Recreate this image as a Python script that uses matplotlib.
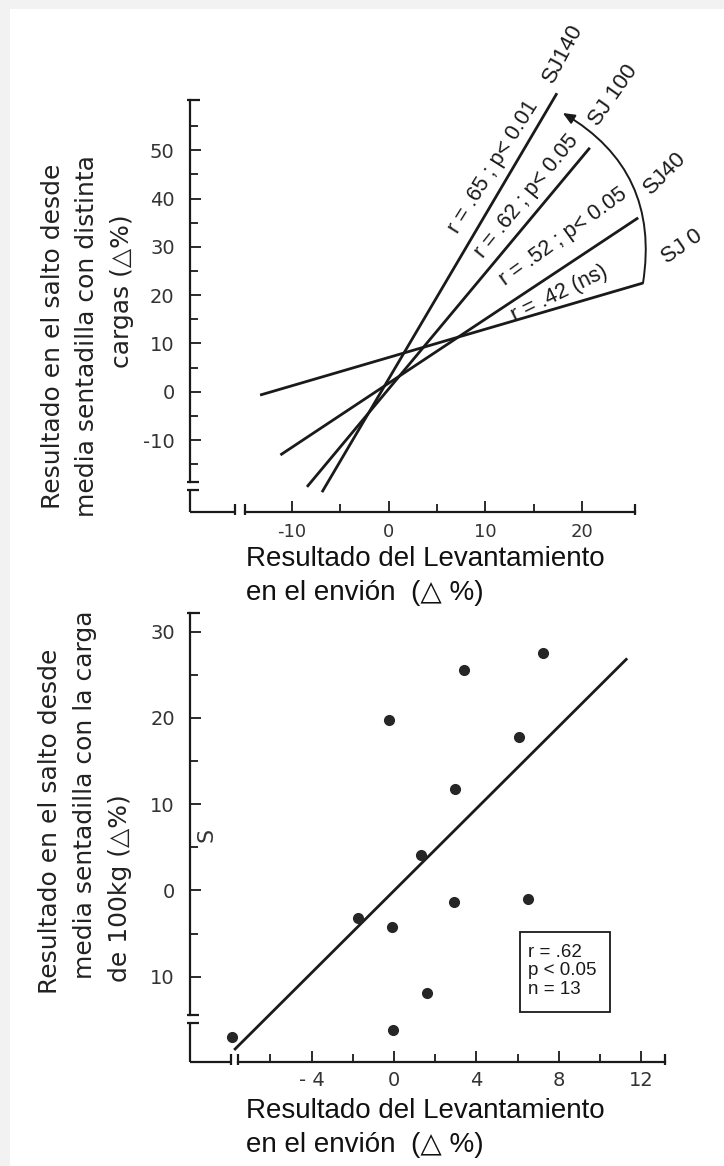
import numpy as np
import matplotlib.pyplot as plt
from matplotlib.patches import FancyArrowPatch, Rectangle

# --- Gráfico superior: rectas de regresión para cada carga (extremos de cada recta)
cargas = ["SJ 0", "SJ40", "SJ 100", "SJ140"]
rectas_x = [[-13.3, 26.3], [-11.2, 25.8], [-8.45, 20.8], [-6.9, 17.4]]
rectas_y = [[-0.7, 22.5], [-13.1, 36.0], [-19.7, 50.5], [-20.8, 61.8]]
estadisticos = ["r = .42 (ns)", "r = .52 ; p< 0.05", "r = .62 ; p< 0.05", "r = .65 ; p< 0.01"]

# --- Gráfico inferior: SJ con 100 kg frente al envión (n = 13)
envion = [-7.84, -1.76, -0.26, -0.09, -0.06, 1.31, 1.61, 2.98, 2.91, 3.40, 6.07, 6.51, 7.23]
salto = [-16.96, -3.24, 19.76, -4.2, -16.2, 4.1, -11.9, 11.8, -1.3, 25.5, 17.75, -1.03, 27.5]
ajuste_x = [-7.76, 11.32]
ajuste_y = [-18.5, 26.9]

y1_ticks = [-10, 0, 10, 20, 30, 40, 50]
x1_ticks = [-10, 0, 10, 20]
y2_ticks = [-10, 0, 10, 20, 30]
y2_labels = ["10", "0", "10", "20", "30"]
x2_ticks = [-4, 0, 4, 8, 12]

W, H = 724, 1166
TINTA = "#1a1a1a"
fig = plt.figure(figsize=(W / 100, H / 100), dpi=100)
fig.patch.set_facecolor("#f2f2f2")
fig.add_artist(Rectangle((10 / W, 0), 1 - 10 / W, 1 - 9 / H, transform=fig.transFigure,
                         facecolor="white", edgecolor="none", zorder=-5))

SANS = ["Liberation Sans", "DejaVu Sans"]
NARROW = ["Liberation Sans Narrow"] + SANS
DIN = ["DejaVu Sans"]


def fpos(x, y):
    return x / W, 1 - y / H


def colocar_ejes(x0, kx, xlim, y0, ky, ylim):
    # x0, y0: píxel del origen; kx, ky: píxeles por unidad
    izq, der = x0 + kx * xlim[0], x0 + kx * xlim[1]
    inf, sup = y0 - ky * ylim[0], y0 - ky * ylim[1]
    ax = fig.add_axes([izq / W, 1 - inf / H, (der - izq) / W, (inf - sup) / H])
    ax.set_xlim(xlim)
    ax.set_ylim(ylim)
    ax.patch.set_alpha(0)
    return ax


def ejes_cortados(ax, kx, ky, x_eje, y_eje, y_corte, y_tope, x_corte, x_fin):
    # ejes dibujados a mano con las marcas de corte
    kw = dict(color=TINTA, lw=1.6, clip_on=False, solid_capstyle="butt")
    for s in ["top", "right"]:
        ax.spines[s].set_visible(False)
    ax.spines["left"].set_position(("data", x_eje))
    ax.spines["left"].set_bounds(y_corte[0], y_tope)
    ax.spines["bottom"].set_position(("data", y_eje))
    ax.spines["bottom"].set_bounds(x_corte[1], x_fin)
    for s in ["left", "bottom"]:
        ax.spines[s].set_linewidth(1.6)
        ax.spines[s].set_color(TINTA)
    ax.plot([x_eje, x_eje], [y_eje, y_corte[1]], **kw)
    ax.plot([x_eje, x_corte[0]], [y_eje, y_eje], **kw)
    for yc in y_corte:
        ax.plot([x_eje - 3 / kx, x_eje + 9 / kx], [yc, yc], **kw)
    for xc in x_corte:
        ax.plot([xc, xc], [y_eje - 3 / ky, y_eje + 8 / ky], **kw)
    ax.plot([x_eje - 3 / kx, x_eje + 10 / kx], [y_tope, y_tope], **kw)
    ax.plot([x_fin, x_fin], [y_eje - 3 / ky, y_eje + 8 / ky], **kw)
    ax.tick_params(which="both", direction="in", color=TINTA, width=1.3)
    ax.tick_params(which="major", length=8)
    ax.tick_params(which="minor", length=6)


# ================= gráfico superior =================
kx1, ky1 = 9.67, 4.83
ax1 = colocar_ejes(388.7, kx1, (-22, 30), 391.7, ky1, (-27, 72))
ejes_cortados(ax1, kx1, ky1, x_eje=-20.55, y_eje=-24.9, y_corte=(-18.6, -20.3), y_tope=60.4,
              x_corte=(-15.9, -14.9), x_fin=25.5)
ax1.set_yticks(y1_ticks)
ax1.set_yticks(np.arange(-15, 60, 10), minor=True)
ax1.set_xticks(x1_ticks)
ax1.set_xticks([-5, 5, 15], minor=True)
ax1.set_yticklabels([str(v) for v in y1_ticks], fontsize=14, family=DIN, color="#333")
ax1.set_xticklabels([str(v) for v in x1_ticks], fontsize=13, family=DIN, color="#333")
ax1.tick_params(axis="y", pad=11)
ax1.tick_params(axis="x", pad=8)

for xs, ys in zip(rectas_x, rectas_y):
    ax1.plot(xs, ys, color=TINTA, lw=2.0, solid_capstyle="butt")

# rótulos de correlación sobre cada recta
pos_est = [(17.7, 20.4, 26), (18.1, 32.1, 36), (14.3, 40.4, 51), (10.8, 46.6, 58)]
for txt, (x, y, rot) in zip(estadisticos, pos_est):
    ax1.text(x, y, txt, rotation=rot, rotation_mode="anchor", ha="center", va="center",
             fontsize=15.5, family=NARROW, color=TINTA)

# nombres de las cargas en el extremo de cada recta
pos_carga = [(30.3, 30.0, 35), (28.6, 45.2, 45), (23.2, 61.4, 55), (18.05, 70.1, 62)]
for txt, (x, y, rot) in zip(cargas, pos_carga):
    ax1.text(x, y, txt, rotation=rot, rotation_mode="anchor", ha="center", va="center",
             fontsize=16, family=NARROW, color=TINTA)

# flecha curva que recorre las cargas de SJ 0 a SJ140
flecha = FancyArrowPatch((rectas_x[0][1], rectas_y[0][1]), (18.0, 57.7),
                         connectionstyle="arc3,rad=0.34",
                         arrowstyle="-|>,head_length=7,head_width=3",
                         color=TINTA, lw=1.4, shrinkA=0, shrinkB=0, clip_on=False)
ax1.add_patch(flecha)

lab_kw = dict(rotation=90, ha="center", va="center", fontsize=18, family=DIN, color="#222")
fig.text(*fpos(53, 336), "Resultado en el salto desde", **lab_kw)
fig.text(*fpos(87, 336), "media sentadilla con distinta", **lab_kw)
fig.text(*fpos(122, 291), "cargas (\u25b3%)", **lab_kw)

xl_kw = dict(ha="left", va="center", fontsize=20, family=SANS, color="#111")
fig.text(*fpos(246, 559), "Resultado del Levantamiento", **xl_kw)
fig.text(*fpos(246, 593), "en el envión  (\u25b3 %)", **xl_kw)

# ================= gráfico inferior =================
kx2, ky2 = 20.6, 8.625
ax2 = colocar_ejes(394, kx2, (-12, 15), 890.4, ky2, (-23, 35))
ejes_cortados(ax2, kx2, ky2, x_eje=-9.9, y_eje=-19.86, y_corte=(-14.45, -15.4), y_tope=32.2,
              x_corte=(-7.9, -7.57), x_fin=13.15)
ax2.set_yticks(y2_ticks)
ax2.set_yticks([-5, 5, 15, 25], minor=True)
ax2.set_xticks(x2_ticks)
ax2.set_xticks([-6, -2, 2, 6, 10], minor=True)
ax2.set_yticklabels(y2_labels, fontsize=14, family=DIN, color="#333")
ax2.set_xticklabels([str(v).replace("-", "- ") for v in x2_ticks], fontsize=14, family=DIN,
                    color="#333")
ax2.tick_params(axis="y", pad=11)
ax2.tick_params(axis="x", pad=7)

ax2.plot(ajuste_x, ajuste_y, color=TINTA, lw=2.0, solid_capstyle="butt")
ax2.plot(envion, salto, "o", ms=7, color="#262626", mec="#262626")

ax2.text(-9.1, 6.4, "S", rotation=90, ha="center", va="center", fontsize=16, family=DIN,
         color="#333")

ax2.add_patch(Rectangle((6.14, -14.05), 4.33, 9.28, fill=False, lw=1.3, edgecolor=TINTA))
ax2.text(6.5, -9.3, "r = .62\np < 0.05\nn = 13", ha="left", va="center", fontsize=13.5,
         family=SANS, color=TINTA, linespacing=1.12)

fig.text(*fpos(50, 821), "Resultado en el salto desde", **lab_kw)
fig.text(*fpos(85, 795), "media sentadilla con la carga", **lab_kw)
fig.text(*fpos(120, 888), "de 100kg (\u25b3%)", **lab_kw)

fig.text(*fpos(246, 1111), "Resultado del Levantamiento", **xl_kw)
fig.text(*fpos(246, 1145), "en el envión  (\u25b3 %)", **xl_kw)

fig.savefig("out.png", dpi=100)
